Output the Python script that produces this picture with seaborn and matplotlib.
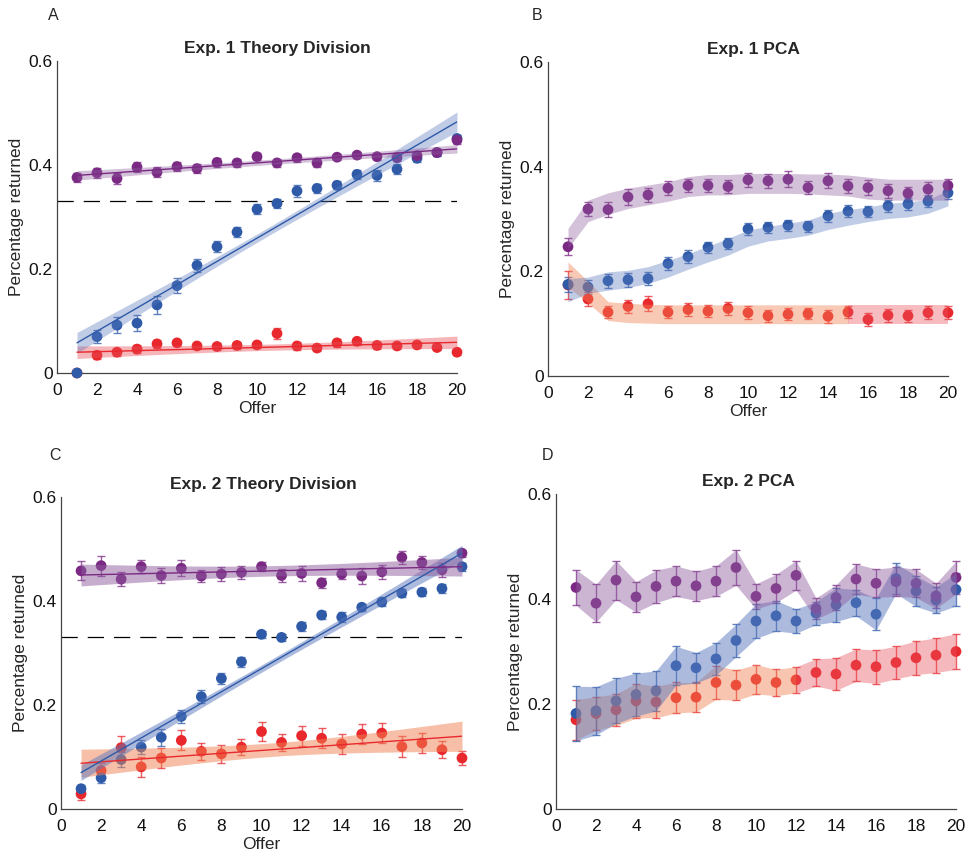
import numpy as np
import pandas as pd
import matplotlib
matplotlib.use("Agg")
import matplotlib.pyplot as plt
import seaborn as sns

# ---------------- data ----------------
offers = list(range(1, 21))
x_ticks = [0, 2, 4, 6, 8, 10, 12, 14, 16, 18, 20]
y_ticks = [0, 0.2, 0.4, 0.6]
y_tick_labels = ["0", "0.2", "0.4", "0.6"]
titles = ["Exp. 1 Theory Division", "Exp. 1 PCA", "Exp. 2 Theory Division", "Exp. 2 PCA"]
letters = ["A", "B", "C", "D"]
chance_level = 0.33

# Panel A (Exp. 1 Theory Division)
a_purple = [0.376, 0.385, 0.374, 0.396, 0.386, 0.397, 0.393, 0.405, 0.404, 0.416,
            0.404, 0.414, 0.404, 0.415, 0.419, 0.416, 0.414, 0.418, 0.424, 0.448]
a_purple_err = [0.008, 0.010, 0.010, 0.010, 0.010, 0.009, 0.009, 0.008, 0.008, 0.007,
                0.007, 0.008, 0.007, 0.006, 0.006, 0.007, 0.007, 0.007, 0.007, 0.008]
a_blue = [0.000, 0.070, 0.092, 0.096, 0.131, 0.168, 0.207, 0.243, 0.271, 0.315,
          0.326, 0.350, 0.355, 0.361, 0.382, 0.380, 0.392, 0.413, 0.424, 0.451]
a_blue_err = [0.000, 0.013, 0.015, 0.015, 0.017, 0.014, 0.012, 0.010, 0.010, 0.010,
              0.008, 0.011, 0.009, 0.008, 0.008, 0.010, 0.009, 0.008, 0.006, 0.006]
a_red = [0.000, 0.034, 0.040, 0.046, 0.056, 0.058, 0.052, 0.051, 0.053, 0.054,
         0.076, 0.052, 0.048, 0.058, 0.061, 0.053, 0.052, 0.054, 0.049, 0.040]
a_red_err = [0.000, 0.008, 0.007, 0.008, 0.007, 0.006, 0.006, 0.006, 0.006, 0.006,
             0.011, 0.007, 0.006, 0.008, 0.007, 0.006, 0.006, 0.006, 0.005, 0.005]
# regression fits: value at offer 1 and 20; CI half-width at start, middle, end
a_fit_purple = [0.380, 0.431]
a_fit_purple_ci = [0.009, 0.005, 0.008]
a_fit_blue = [0.058, 0.483]
a_fit_blue_ci = [0.020, 0.008, 0.019]
a_fit_red = [0.040, 0.059]
a_fit_red_ci = [0.012, 0.006, 0.012]

# Panel B (Exp. 1 PCA)
b_purple = [0.247, 0.319, 0.318, 0.342, 0.346, 0.359, 0.364, 0.364, 0.362, 0.375,
            0.373, 0.376, 0.360, 0.373, 0.363, 0.360, 0.354, 0.349, 0.357, 0.364]
b_purple_err = [0.016, 0.014, 0.014, 0.015, 0.014, 0.014, 0.013, 0.013, 0.013, 0.013,
                0.013, 0.015, 0.013, 0.014, 0.013, 0.014, 0.013, 0.013, 0.013, 0.013]
b_blue = [0.175, 0.170, 0.182, 0.184, 0.186, 0.215, 0.228, 0.246, 0.253, 0.281,
          0.284, 0.288, 0.286, 0.306, 0.315, 0.314, 0.325, 0.329, 0.334, 0.350]
b_blue_err = [0.015, 0.013, 0.013, 0.013, 0.012, 0.012, 0.012, 0.011, 0.011, 0.011,
              0.011, 0.011, 0.011, 0.012, 0.011, 0.011, 0.011, 0.011, 0.011, 0.012]
b_red = [0.174, 0.147, 0.122, 0.133, 0.138, 0.122, 0.127, 0.124, 0.129, 0.121,
         0.115, 0.118, 0.119, 0.114, 0.122, 0.108, 0.116, 0.115, 0.121, 0.121]
b_red_err = [0.026, 0.014, 0.012, 0.013, 0.014, 0.012, 0.012, 0.012, 0.013, 0.012,
             0.011, 0.011, 0.011, 0.012, 0.012, 0.012, 0.012, 0.011, 0.012, 0.012]
b_purple_band_lo = [0.244, 0.295, 0.309, 0.320, 0.327, 0.334, 0.343, 0.346, 0.346, 0.349,
                    0.349, 0.349, 0.348, 0.346, 0.344, 0.338, 0.336, 0.336, 0.336, 0.336]
b_purple_band_hi = [0.282, 0.336, 0.350, 0.359, 0.365, 0.371, 0.381, 0.385, 0.385, 0.387,
                    0.387, 0.387, 0.386, 0.386, 0.384, 0.380, 0.376, 0.376, 0.376, 0.376]
b_blue_band_lo = [0.142, 0.158, 0.164, 0.169, 0.177, 0.189, 0.204, 0.218, 0.231, 0.248,
                  0.258, 0.263, 0.269, 0.280, 0.288, 0.295, 0.301, 0.304, 0.311, 0.325]
b_blue_band_hi = [0.186, 0.189, 0.199, 0.202, 0.209, 0.221, 0.234, 0.248, 0.263, 0.279,
                  0.286, 0.292, 0.298, 0.311, 0.318, 0.323, 0.330, 0.333, 0.337, 0.355]
b_red_band_lo = [0.170, 0.140, 0.106, 0.102, 0.101, 0.100, 0.100, 0.100, 0.100, 0.100,
                 0.100, 0.100, 0.100, 0.100, 0.100, 0.100, 0.100, 0.100, 0.100, 0.100]
b_red_band_hi = [0.218, 0.181, 0.142, 0.139, 0.137, 0.136, 0.136, 0.136, 0.136, 0.136,
                 0.136, 0.136, 0.136, 0.136, 0.136, 0.136, 0.136, 0.136, 0.136, 0.136]

# Panel C (Exp. 2 Theory Division)
c_purple = [0.458, 0.468, 0.442, 0.466, 0.449, 0.463, 0.448, 0.452, 0.455, 0.466,
            0.449, 0.453, 0.435, 0.452, 0.448, 0.456, 0.484, 0.474, 0.460, 0.492]
c_purple_err = [0.018, 0.019, 0.013, 0.012, 0.015, 0.015, 0.011, 0.013, 0.013, 0.009,
                0.013, 0.014, 0.010, 0.010, 0.016, 0.014, 0.013, 0.012, 0.013, 0.007]
c_blue = [0.039, 0.060, 0.095, 0.119, 0.138, 0.178, 0.216, 0.251, 0.283, 0.336,
          0.330, 0.351, 0.373, 0.369, 0.388, 0.398, 0.415, 0.417, 0.424, 0.466]
c_blue_err = [0.007, 0.010, 0.015, 0.014, 0.016, 0.012, 0.012, 0.010, 0.010, 0.007,
              0.007, 0.008, 0.007, 0.009, 0.007, 0.008, 0.008, 0.008, 0.009, 0.008]
c_red = [0.029, 0.074, 0.118, 0.081, 0.098, 0.132, 0.111, 0.106, 0.119, 0.149,
         0.128, 0.141, 0.136, 0.125, 0.144, 0.146, 0.120, 0.127, 0.114, 0.098]
c_red_err = [0.011, 0.014, 0.022, 0.019, 0.019, 0.019, 0.016, 0.017, 0.015, 0.019,
             0.017, 0.019, 0.019, 0.019, 0.019, 0.020, 0.020, 0.020, 0.016, 0.014]
c_fit_purple = [0.450, 0.466]
c_fit_purple_ci = [0.021, 0.010, 0.018]
c_fit_blue = [0.070, 0.492]
c_fit_blue_ci = [0.015, 0.007, 0.015]
c_fit_red = [0.088, 0.140]
c_fit_red_ci = [0.027, 0.013, 0.029]

# Panel D (Exp. 2 PCA)
d_purple = [0.422, 0.392, 0.436, 0.404, 0.424, 0.434, 0.425, 0.434, 0.460, 0.405,
            0.420, 0.445, 0.382, 0.403, 0.438, 0.430, 0.433, 0.430, 0.406, 0.441]
d_purple_err = [0.034, 0.036, 0.037, 0.029, 0.031, 0.029, 0.028, 0.029, 0.034, 0.024,
                0.027, 0.028, 0.020, 0.024, 0.029, 0.027, 0.028, 0.027, 0.024, 0.031]
d_blue = [0.182, 0.187, 0.206, 0.218, 0.225, 0.273, 0.269, 0.286, 0.321, 0.358,
          0.368, 0.358, 0.373, 0.389, 0.393, 0.371, 0.439, 0.415, 0.398, 0.418]
d_blue_err = [0.052, 0.046, 0.043, 0.041, 0.038, 0.037, 0.029, 0.031, 0.031, 0.033,
              0.029, 0.023, 0.022, 0.032, 0.025, 0.030, 0.029, 0.029, 0.025, 0.031]
d_red = [0.170, 0.182, 0.189, 0.206, 0.204, 0.212, 0.213, 0.241, 0.236, 0.247,
         0.241, 0.246, 0.260, 0.257, 0.274, 0.271, 0.279, 0.288, 0.293, 0.300]
d_red_err = [0.038, 0.032, 0.030, 0.033, 0.030, 0.029, 0.028, 0.032, 0.029, 0.028,
             0.025, 0.025, 0.026, 0.031, 0.031, 0.032, 0.031, 0.032, 0.033, 0.034]

# ---------------- style ----------------
sns.set_theme(style="white")
plt.rcParams["font.family"] = ["Liberation Sans", "DejaVu Sans"]

C_PURPLE = "#7b2a84"
C_BLUE = "#2e5aa8"
C_RED = "#e8282d"
BAND_PURPLE = "#8e5c9e"
BAND_BLUE = "#5a78bd"
BAND_ORANGE = "#f08050"
BAND_PINK = "#e8505a"
FS = 12.5

W, H = 972, 855
fig = plt.figure(figsize=(W / 100, H / 100), dpi=100)

def ax_at(left, top, right, bottom):
    return fig.add_axes([left / W, 1 - bottom / H, (right - left) / W, (bottom - top) / H])

axA = ax_at(57, 61, 457, 373)
axB = ax_at(548, 62, 948, 376)
axC = ax_at(61, 497, 462, 809)
axD = ax_at(556, 494, 956, 809)
axes = [axA, axB, axC, axD]

x = np.array(offers, dtype=float)


def points(ax, y, err, color):
    ax.errorbar(x, y, yerr=err, fmt="none", ecolor=color, elinewidth=1.0,
                capsize=3.2, capthick=1.0, alpha=0.75, clip_on=False, zorder=2)
    df = pd.DataFrame({"offer": x, "val": y})
    sns.scatterplot(data=df, x="offer", y="val", ax=ax, color=color, s=60,
                    edgecolor="none", linewidth=0, clip_on=False, zorder=3, legend=False)


def fit(ax, ends, ci, line_color, band_color, alpha):
    xs = np.linspace(1, 20, 200)
    line = np.interp(xs, [1, 20], ends)
    t = (xs - 10.5) / 9.5
    hw_end = np.where(t < 0, ci[0], ci[2])
    hw = np.sqrt(ci[1] ** 2 + (hw_end ** 2 - ci[1] ** 2) * t ** 2)
    ax.fill_between(xs, line - hw, line + hw, color=band_color, alpha=alpha,
                    linewidth=0, zorder=4)
    sns.lineplot(x=xs, y=line, ax=ax, color=line_color, linewidth=1.0, zorder=5)


def band(ax, lo, hi, color, alpha, xr=None):
    lo = np.asarray(lo); hi = np.asarray(hi)
    if xr is None:
        m = np.ones_like(x, dtype=bool)
    else:
        m = (x >= xr[0]) & (x <= xr[1])
    ax.fill_between(x[m], lo[m], hi[m], color=color, alpha=alpha, linewidth=0, zorder=4)


# Panel A
points(axA, a_red, a_red_err, C_RED)
points(axA, a_blue, a_blue_err, C_BLUE)
points(axA, a_purple, a_purple_err, C_PURPLE)
fit(axA, a_fit_red, a_fit_red_ci, C_RED, BAND_PINK, 0.42)
fit(axA, a_fit_blue, a_fit_blue_ci, C_BLUE, BAND_BLUE, 0.38)
fit(axA, a_fit_purple, a_fit_purple_ci, C_PURPLE, BAND_PURPLE, 0.38)

# Panel B
points(axB, b_red, b_red_err, C_RED)
points(axB, b_blue, b_blue_err, C_BLUE)
points(axB, b_purple, b_purple_err, C_PURPLE)
band(axB, b_red_band_lo, b_red_band_hi, BAND_ORANGE, 0.42, (1, 15))
band(axB, b_red_band_lo, b_red_band_hi, BAND_PINK, 0.38, (15, 20))
band(axB, b_blue_band_lo, b_blue_band_hi, BAND_BLUE, 0.38)
band(axB, b_purple_band_lo, b_purple_band_hi, BAND_PURPLE, 0.38)

# Panel C
points(axC, c_red, c_red_err, C_RED)
points(axC, c_blue, c_blue_err, C_BLUE)
points(axC, c_purple, c_purple_err, C_PURPLE)
fit(axC, c_fit_red, c_fit_red_ci, C_RED, BAND_ORANGE, 0.5)
fit(axC, c_fit_blue, c_fit_blue_ci, C_BLUE, BAND_BLUE, 0.5)
fit(axC, c_fit_purple, c_fit_purple_ci, C_PURPLE, BAND_PURPLE, 0.5)

# Panel D (band = mean +/- error)
points(axD, d_red, d_red_err, C_RED)
points(axD, d_blue, d_blue_err, C_BLUE)
points(axD, d_purple, d_purple_err, C_PURPLE)
dr, dre = np.array(d_red), np.array(d_red_err)
db, dbe = np.array(d_blue), np.array(d_blue_err)
dp, dpe = np.array(d_purple), np.array(d_purple_err)
band(axD, dr - dre, dr + dre, BAND_ORANGE, 0.45, (1, 12))
band(axD, dr - dre, dr + dre, BAND_PINK, 0.4, (12, 20))
band(axD, db - dbe, db + dbe, BAND_BLUE, 0.5)
band(axD, dp - dpe, dp + dpe, BAND_PURPLE, 0.45)

# chance line
for ax in (axA, axC):
    ax.plot([0, 20], [chance_level, chance_level], color="black", linewidth=0.9,
            dashes=(13, 8), zorder=1)

title_x = [0.55, 0.5125, 0.505, 0.48]
for i, ax in enumerate(axes):
    ax.set_xlim(0, 20)
    ax.set_ylim(0, 0.6)
    ax.set_xticks(x_ticks)
    ax.set_xticklabels([str(v) for v in x_ticks], fontsize=FS)
    ax.set_yticks(y_ticks)
    ax.set_yticklabels(y_tick_labels, fontsize=FS)
    ax.tick_params(direction="in", length=4, width=0.8, color="#333333",
                   labelcolor="#111111")
    ax.tick_params(axis="x", pad=7)
    ax.tick_params(axis="y", pad=3)
    for s in ("top", "right"):
        ax.spines[s].set_visible(False)
    for s in ("left", "bottom"):
        ax.spines[s].set_color("#444444")
        ax.spines[s].set_linewidth(0.9)
    ax.set_xlabel("")
    ax.set_ylabel("Percentage returned", fontsize=FS, labelpad=3.5)
    ax.text(title_x[i], 1 + 12 / 312, titles[i], transform=ax.transAxes,
            ha="center", va="center", fontsize=FS, fontweight="bold")

for ax in (axA, axB, axC):
    ax.set_xlabel("Offer", fontsize=FS, labelpad=2.5)

fig.text(53 / W, 1 - 15 / H, "A", ha="center", va="center", fontsize=11.5)
fig.text(537 / W, 1 - 15 / H, "B", ha="center", va="center", fontsize=11.5)
fig.text(55 / W, 1 - 455 / H, "C", ha="center", va="center", fontsize=11.5)
fig.text(547 / W, 1 - 455 / H, "D", ha="center", va="center", fontsize=11.5)

fig.savefig("out.png", dpi=100, facecolor="white")
